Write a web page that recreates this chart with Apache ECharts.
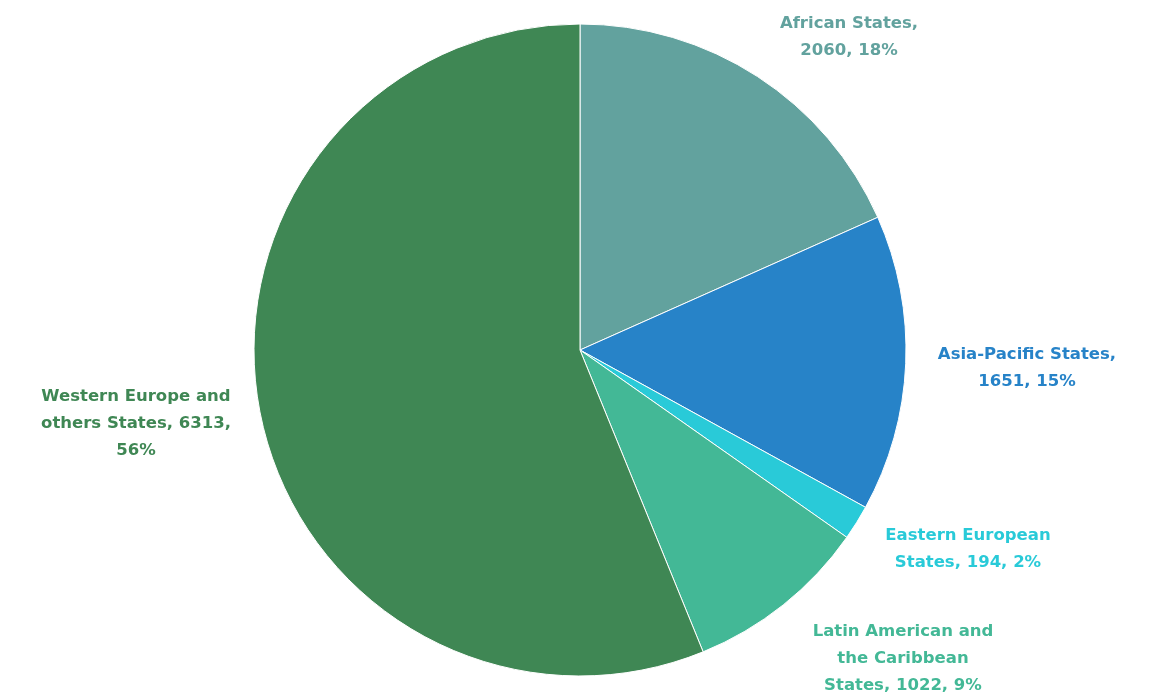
<!DOCTYPE html>
<html>
<head>
<meta charset="utf-8">
<script src="https://cdn.jsdelivr.net/npm/echarts@6/dist/echarts.min.js"></script>
<style>html,body{margin:0;padding:0;background:#fff;}#c{width:1161px;height:696px;}</style>
</head>
<body>
<div id="c"></div>
<script>
const categories = ['African States', 'Asia-Pacific States', 'Eastern European States', 'Latin American and the Caribbean States', 'Western Europe and others States'];
const values = [2060, 1651, 194, 1022, 6313];
const colors = ['#62A29E', '#2783C8', '#29CAD8', '#43B896', '#3F8754'];

const labelPos = [[849, 37], [1027, 368], [968, 549], [903, 659], [136, 424]];

function fmt(p) {
  const n = p.name, v = p.value, d = Math.round(p.percent) + '%';
  switch (p.dataIndex) {
    case 0: return n + ',\n' + v + ', ' + d;
    case 1: return n + ',\n' + v + ', ' + d;
    case 2: return 'Eastern European\nStates, ' + v + ', ' + d;
    case 3: return 'Latin American and\nthe Caribbean\nStates, ' + v + ', ' + d;
    case 4: return 'Western Europe and\nothers States, ' + v + ',\n' + d;
  }
}

const chart = echarts.init(document.getElementById('c'), null, {renderer: 'canvas'});
chart.setOption({
  animation: false,
  backgroundColor: '#ffffff',
  series: [{
    type: 'pie',
    center: [580, 350],
    radius: 326,
    startAngle: 90,
    clockwise: true,
    percentPrecision: 0,
    data: categories.map((c, i) => ({name: c, value: values[i], itemStyle: {color: colors[i]}, label: {color: colors[i]}})),
    itemStyle: {borderColor: '#ffffff', borderWidth: 1},
    label: {
      show: true,
      position: 'outside',
      formatter: fmt,
      fontFamily: 'DejaVu Sans',
      fontWeight: 'bold',
      fontSize: 16.5,
      lineHeight: 27,
      align: 'center'
    },
    labelLine: {show: false},
    labelLayout: function (params) {
      const p = labelPos[params.dataIndex];
      return {x: p[0], y: p[1], align: 'center', verticalAlign: 'middle'};
    }
  }]
});
</script>
</body>
</html>
